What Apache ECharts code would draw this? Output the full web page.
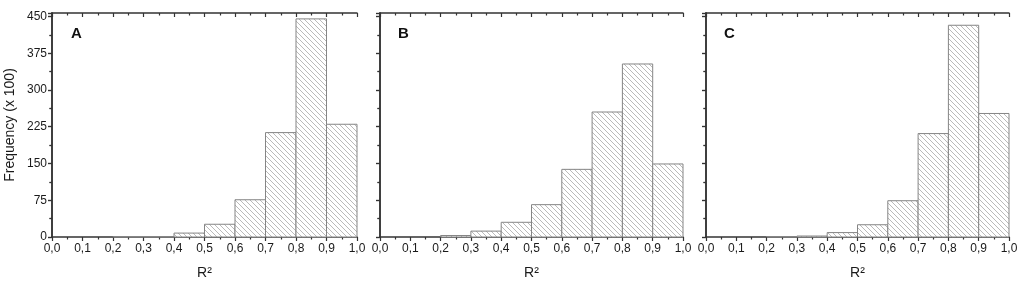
<!DOCTYPE html>
<html>
<head>
<meta charset="utf-8">
<title>R2 frequency histograms</title>
<script src="https://cdn.jsdelivr.net/npm/echarts@6/dist/echarts.min.js"></script>
<style>
    body { margin: 0; background: #fff; }
    #main { width: 1024px; height: 286px; }
</style>
</head>
<body>
<div id="main"></div>
<script type="text/javascript">
    // bin edges (left edge of each bin, width 0.1)
    var binStart = [0.0, 0.1, 0.2, 0.3, 0.4, 0.5, 0.6, 0.7, 0.8, 0.9];
    var binWidth = 0.1;
    // frequencies (x 100)
    var freqA = [0, 0, 1, 1, 8, 26, 76, 213, 445, 230];
    var freqB = [0, 0, 3, 12, 30, 66, 138, 255, 353, 149];
    var freqC = [0, 0, 1, 2, 9, 25, 74, 211, 432, 252];
    var panelNames = ['A', 'B', 'C'];
    var yTickStep = 75;
    var xTickStep = 0.1;

    var panels = [freqA, freqB, freqC];
    var grids = [
        {left: 52, width: 305, top: 13, bottom: 49},
        {left: 380, width: 303, top: 13, bottom: 49},
        {left: 706, width: 303, top: 13, bottom: 49}
    ];
    var letterPos = [66, 393, 719];

    // hatch pattern "\\\\" for the bars
    function makeHatch() {
        var s = 5;
        var c = document.createElement('canvas');
        c.width = s; c.height = s;
        var ctx = c.getContext('2d');
        ctx.fillStyle = '#fff';
        ctx.fillRect(0, 0, s, s);
        ctx.strokeStyle = '#a8a8a8';
        ctx.lineWidth = 0.8;
        ctx.beginPath();
        ctx.moveTo(0, 0); ctx.lineTo(s, s);
        ctx.moveTo(-1, s - 1); ctx.lineTo(1, s + 1);
        ctx.moveTo(s - 1, -1); ctx.lineTo(s + 1, 1);
        ctx.stroke();
        return c;
    }
    var hatch = {image: makeHatch(), repeat: 'repeat'};

    var frameColor = '#333';
    var textColor = '#1a1a1a';
    var font = 'Liberation Sans, Arial, sans-serif';

    function xAxisOf(i, pos) {
        var out = pos === 'bottom';
        return {
            type: 'value', gridIndex: i, position: pos,
            min: 0, max: 1, interval: xTickStep,
            name: out ? 'R²' : '',
            nameLocation: 'middle', nameGap: 29,
            nameTextStyle: {color: textColor, fontSize: 14, fontFamily: font},
            axisLine: {show: true, onZero: false, lineStyle: {color: frameColor, width: 1.5}},
            axisTick: {show: true, inside: !out, length: 4, lineStyle: {color: frameColor, width: 1.2}},
            minorTick: {show: true, splitNumber: 2, length: 2.5, lineStyle: {color: frameColor, width: 1.2}},
            axisLabel: {
                show: out, color: textColor, fontSize: 12, fontFamily: font, margin: 6,
                formatter: function (v) { return v.toFixed(1).replace('.', ','); }
            },
            splitLine: {show: false}
        };
    }

    function yAxisOf(i, pos) {
        var out = pos === 'left';
        return {
            type: 'value', gridIndex: i, position: pos,
            min: 0, max: 457, interval: yTickStep,
            name: (i === 0 && out) ? 'Frequency (x 100)' : '',
            nameLocation: 'middle', nameGap: 35,
            nameTextStyle: {color: textColor, fontSize: 14, fontFamily: font},
            axisLine: {show: true, lineStyle: {color: frameColor, width: 1.5}},
            axisTick: {show: true, inside: !out, length: 4, lineStyle: {color: frameColor, width: 1.2}},
            minorTick: {show: true, splitNumber: 2, length: 2.5, lineStyle: {color: frameColor, width: 1.2}},
            axisLabel: {
                show: i === 0 && out, showMaxLabel: false,
                color: textColor, fontSize: 12, fontFamily: font, margin: 5
            },
            splitLine: {show: false}
        };
    }

    var xAxes = [], yAxes = [], series = [], titles = [];
    panels.forEach(function (freq, i) {
        xAxes.push(xAxisOf(i, 'bottom'), xAxisOf(i, 'top'));
        yAxes.push(yAxisOf(i, 'left'), yAxisOf(i, 'right'));
        var data = binStart.map(function (x0, k) { return [x0, x0 + binWidth, freq[k]]; });
        series.push({
            type: 'custom',
            xAxisIndex: 2 * i,
            yAxisIndex: 2 * i,
            data: data,
            encode: {x: [0, 1], y: 2},
            renderItem: function (params, api) {
                var v = api.value(2);
                if (v <= 0) return;
                var p0 = api.coord([api.value(0), v]);
                var p1 = api.coord([api.value(1), 0]);
                return {
                    type: 'rect',
                    shape: {x: p0[0], y: p0[1], width: p1[0] - p0[0], height: p1[1] - p0[1]},
                    style: {fill: hatch, stroke: '#858585', lineWidth: 1}
                };
            },
            z: 1
        });
        titles.push({
            text: panelNames[i], left: letterPos[i], top: 21,
            textStyle: {fontSize: 15, fontWeight: 'bold', color: '#111', fontFamily: font}
        });
    });

    var myChart = echarts.init(document.getElementById('main'));
    var option = {
        animation: false,
        backgroundColor: '#fff',
        title: titles,
        grid: grids,
        xAxis: xAxes,
        yAxis: yAxes,
        series: series
    };
    myChart.setOption(option);
</script>
</body>
</html>
